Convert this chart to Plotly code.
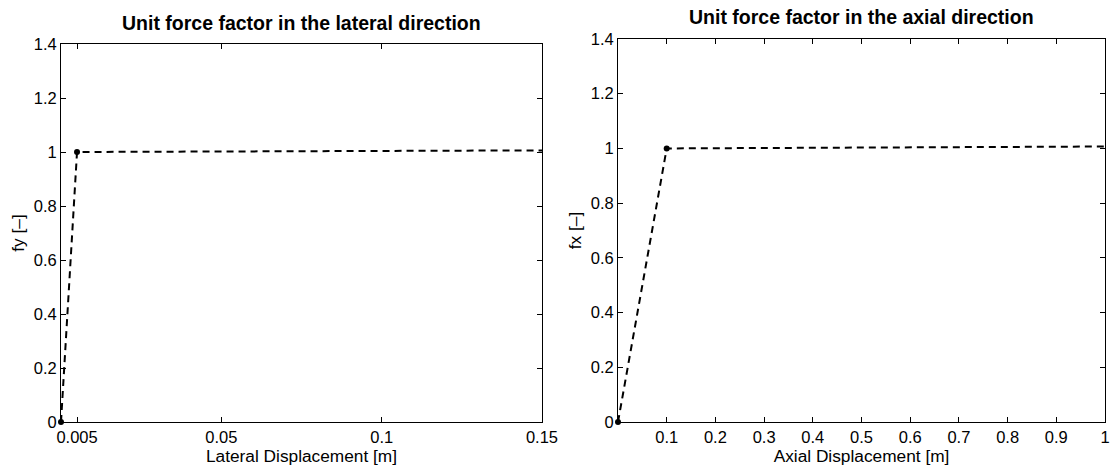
import plotly.graph_objects as go

# Data
lat_x = [0.0, 0.005, 0.15]
lat_y = [0.0, 1.0, 1.006]
lat_mx = [0.0, 0.005]
lat_my = [0.0, 1.0]

ax_x = [0.0, 0.1, 1.0]
ax_y = [0.0, 1.0, 1.007]
ax_mx = [0.0, 0.1]
ax_my = [0.0, 1.0]

lat_xticks = [0.005, 0.05, 0.1, 0.15]
lat_xtext = ["0.005", "0.05", "0.1", "0.15"]
ax_xticks = [0.1, 0.2, 0.3, 0.4, 0.5, 0.6, 0.7, 0.8, 0.9, 1.0]
ax_xtext = ["0.1", "0.2", "0.3", "0.4", "0.5", "0.6", "0.7", "0.8", "0.9", "1"]
yticks = [0, 0.2, 0.4, 0.6, 0.8, 1.0, 1.2, 1.4]
ytext = ["0", "0.2", "0.4", "0.6", "0.8", "1", "1.2", "1.4"]

FONT = "Liberation Sans, Arial, Helvetica, sans-serif"
TICK = 16.5
LAB = 17.3

fig = go.Figure()
fig.add_trace(go.Scatter(x=lat_x, y=lat_y, mode="lines",
                         line=dict(color="black", width=2, dash="7px,5px"),
                         xaxis="x", yaxis="y", showlegend=False))
fig.add_trace(go.Scatter(x=lat_mx, y=lat_my, mode="markers",
                         marker=dict(color="black", size=6),
                         xaxis="x", yaxis="y", showlegend=False, cliponaxis=False))
fig.add_trace(go.Scatter(x=ax_x, y=ax_y, mode="lines",
                         line=dict(color="black", width=2, dash="7px,5px"),
                         xaxis="x2", yaxis="y2", showlegend=False))
fig.add_trace(go.Scatter(x=ax_mx, y=ax_my, mode="markers",
                         marker=dict(color="black", size=6),
                         xaxis="x2", yaxis="y2", showlegend=False, cliponaxis=False))

W, H = 1110, 466
common_axis = dict(showline=True, linecolor="black", linewidth=1, mirror="ticks",
                   ticks="inside", ticklen=5, tickcolor="black", showgrid=False,
                   zeroline=False, automargin=False,
                   tickfont=dict(family=FONT, size=TICK, color="black"))

fig.update_layout(
    width=W, height=H, margin=dict(l=0, r=0, t=0, b=0, autoexpand=False),
    paper_bgcolor="white", plot_bgcolor="white",
    font=dict(family=FONT, color="black"),
    xaxis=dict(domain=[61 / W, 542 / W], range=[0, 0.15], tickvals=lat_xticks, ticktext=lat_xtext,
               anchor="y",
               title=dict(text="Lateral Displacement [m]", font=dict(size=LAB), standoff=0),
               **common_axis),
    yaxis=dict(domain=[(H - 422) / H, (H - 44) / H], range=[0, 1.4], tickvals=yticks, ticktext=ytext,
               anchor="x",
               title=dict(text="fy [–]", font=dict(size=LAB), standoff=4),
               **common_axis),
    xaxis2=dict(domain=[618 / W, 1105 / W], range=[0, 1], tickvals=ax_xticks, ticktext=ax_xtext,
                anchor="y2",
                title=dict(text="Axial Displacement [m]", font=dict(size=LAB), standoff=0),
                **common_axis),
    yaxis2=dict(domain=[(H - 422) / H, (H - 39) / H], range=[0, 1.4], tickvals=yticks, ticktext=ytext,
                anchor="x2",
                title=dict(text="fx [–]", font=dict(size=LAB), standoff=4),
                **common_axis),
    annotations=[
        dict(text="<b>Unit force factor in the lateral direction</b>", x=301 / W, y=1 - 23 / H,
             xref="paper", yref="paper", xanchor="center", yanchor="middle", showarrow=False,
             font=dict(family=FONT, size=19.5, color="black")),
        dict(text="<b>Unit force factor in the axial direction</b>", x=861 / W, y=1 - 17 / H,
             xref="paper", yref="paper", xanchor="center", yanchor="middle", showarrow=False,
             font=dict(family=FONT, size=19.5, color="black")),
    ],
)

fig.write_html("out.html")
